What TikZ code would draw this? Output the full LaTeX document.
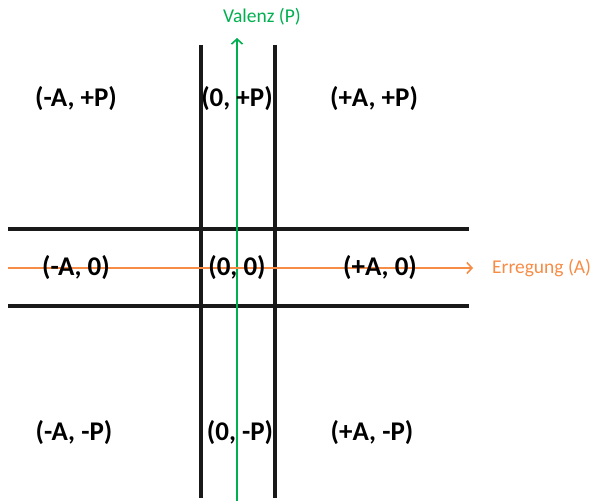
\documentclass[tikz,border=0pt]{standalone}
\usepackage{fontspec}
\setmainfont{Carlito}
\usetikzlibrary{arrows.meta}
\definecolor{valgreen}{RGB}{0,176,80}
\definecolor{errorange}{RGB}{247,140,70}
\begin{document}
\begin{tikzpicture}[x=1pt,y=1pt,
  gridline/.style={line width=4pt,color=black!90},
  quad/.style={font=\fontsize{27}{31}\selectfont\bfseries,inner sep=0pt,anchor=center},
  axislbl/.style={font=\fontsize{19.5}{22}\selectfont,inner sep=0pt}]
\useasboundingbox (0,0) rectangle (594,501);
% grid lines
\coordinate (v1t) at (201,456); \coordinate (v1b) at (201,3);
\coordinate (v2t) at (275,456); \coordinate (v2b) at (275,3);
\coordinate (h1l) at (8,272); \coordinate (h1r) at (469,272);
\coordinate (h2l) at (8,195); \coordinate (h2r) at (469,195);
\draw[gridline] (v1t) -- (v1b);
\draw[gridline] (v2t) -- (v2b);
\draw[gridline] (h1l) -- (h1r);
\draw[gridline] (h2l) -- (h2r);
% axes
\coordinate (ys) at (237,0); \coordinate (ye) at (237,463);
\coordinate (xs) at (8,233); \coordinate (xe) at (473,233);
\draw[valgreen,line width=1.6pt,-{Straight Barb[length=5pt,width=11pt,line width=1.6pt]}] (ys) -- (ye);
\draw[errorange,line width=1.6pt,-{Straight Barb[length=5pt,width=11pt,line width=1.6pt]}] (xs) -- (xe);
\node[axislbl,text=valgreen] (vlab) at (262,484) {Valenz (P)};
\node[axislbl,text=errorange,anchor=west] (elab) at (492,233) {Erregung (A)};
% quadrant labels
\node[quad] (mp) at (76,402) {(-A, +P)};
\node[quad] (zp) at (237,402) {(0, +P)};
\node[quad] (pp) at (374,402) {(+A, +P)};
\node[quad] (mz) at (76,233) {(-A, 0)};
\node[quad] (zz) at (237,233) {(0, 0)};
\node[quad] (pz) at (380,233) {(+A, 0)};
\node[quad] (mm) at (74,68) {(-A, -P)};
\node[quad] (zm) at (240,68) {(0, -P)};
\node[quad] (pm) at (372,68) {(+A, -P)};
\end{tikzpicture}
\end{document}
